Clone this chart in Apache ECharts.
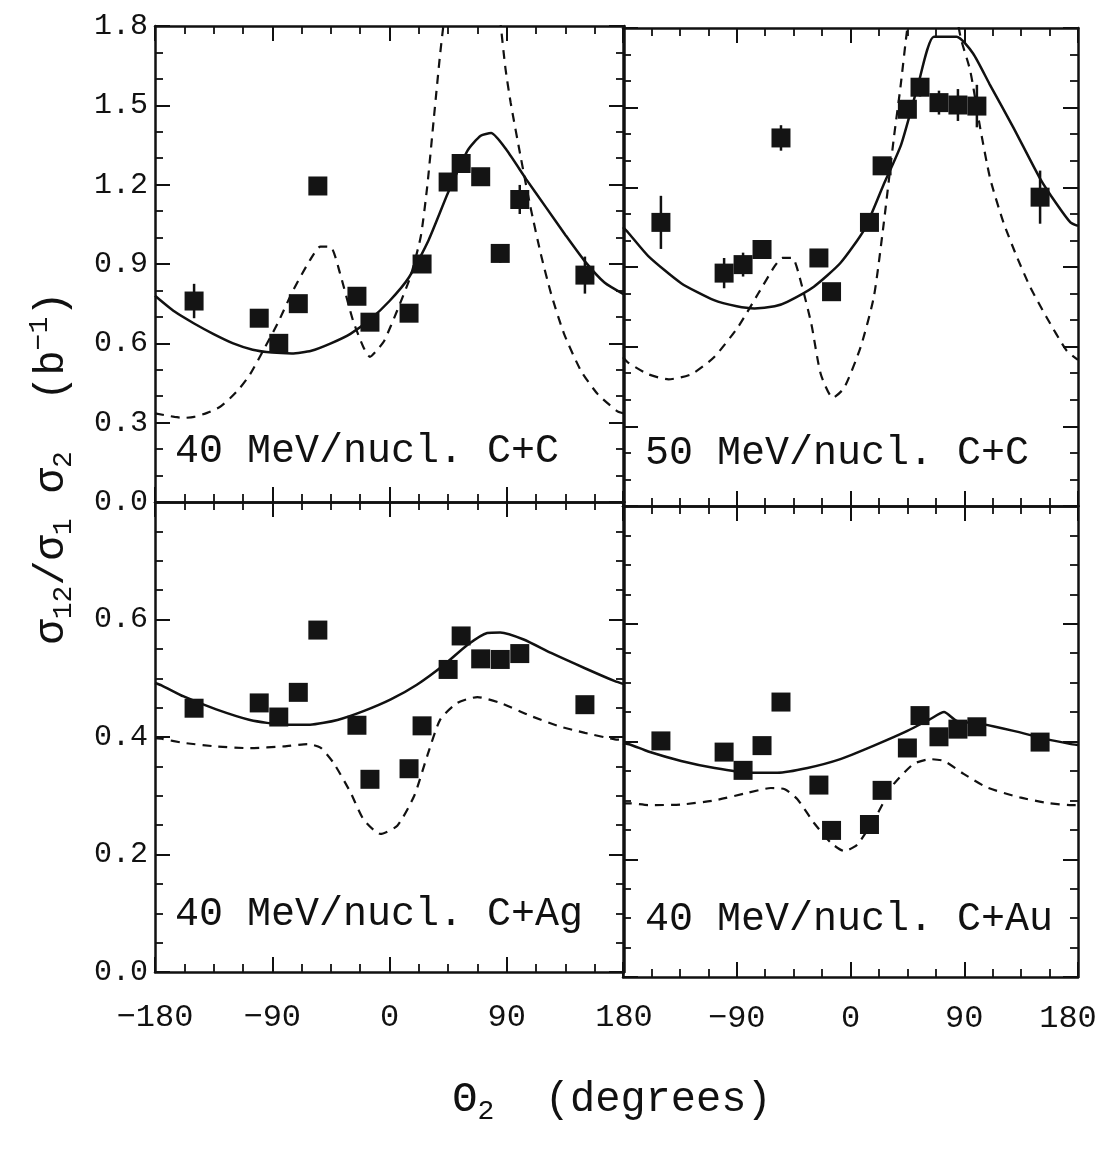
<!DOCTYPE html>
<html><head><meta charset="utf-8">
<script src="https://cdn.jsdelivr.net/npm/echarts@6/dist/echarts.min.js"></script>
<style>html,body{margin:0;padding:0;background:#fff}#c{width:1101px;height:1149px}</style>
</head><body><div id="c"></div><script>
// ---- data ----
const angles = [-150,-100,-85,-70,-55,-25,-15,15,25,45,55,70,85,100,150];
const cc40 = [0.76,0.695,0.60,0.75,1.195,0.778,0.68,0.714,0.90,1.21,1.28,1.23,0.94,1.144,0.858];
const cc40Err = [0.065,0.03,0,0,0,0,0,0,0,0,0.035,0,0.035,0.055,0.07];
const cc50 = [1.068,0.877,0.909,0.966,1.386,0.934,0.807,1.068,1.281,1.494,1.577,1.519,1.51,1.506,1.163];
const cc50Err = [0.10,0.057,0.045,0,0.048,0,0,0,0,0,0.035,0.045,0.06,0.08,0.10];
const cag40 = [0.449,0.458,0.434,0.476,0.582,0.42,0.328,0.346,0.419,0.515,0.572,0.533,0.532,0.542,0.455];
const cau40 = [0.401,0.382,0.351,0.393,0.467,0.326,0.249,0.259,0.317,0.389,0.444,0.408,0.421,0.425,0.399];

const tlSolidX = [-180,-165,-150,-135,-120,-105,-90,-75,-60,-45,-30,-15,0,15,30,45,60,70,78,90,105,120,135,150,165,180];
const tlSolidY = [0.78,0.72,0.675,0.635,0.60,0.576,0.565,0.562,0.572,0.60,0.636,0.69,0.76,0.85,0.99,1.17,1.33,1.385,1.395,1.33,1.22,1.115,1.01,0.91,0.83,0.785];
const tlDashX = [-180,-165,-158,-150,-140,-130,-122,-115,-107,-97,-86,-74,-61,-53,-45,-38,-28,-20,-15,-10,-4,6,16,24,29,34,39,45,55,65,75,85,89,93,101,108,116,124,134,147,160,175,180];
const tlDashY = [0.335,0.322,0.318,0.322,0.337,0.36,0.394,0.43,0.483,0.572,0.674,0.80,0.915,0.966,0.964,0.865,0.686,0.585,0.549,0.572,0.61,0.725,0.852,1.004,1.195,1.449,1.70,1.95,2.3,2.45,2.25,1.82,1.64,1.51,1.297,1.12,0.941,0.788,0.636,0.496,0.407,0.343,0.335];

const trSolidX = [-180,-176,-160,-134,-108,-90,-76,-60,-50,-29,-8,11,26,40,53,66,84,97,110,129,150,163,174,180];
const trSolidY = [1.05,1.03,0.941,0.839,0.775,0.752,0.744,0.752,0.769,0.826,0.915,1.042,1.208,1.36,1.577,1.767,1.767,1.704,1.589,1.424,1.233,1.138,1.068,1.055];
const trDashX = [-180,-176,-160,-144,-126,-108,-89,-73,-60,-54,-46,-39,-31,-23.5,-14,-5,8,18.5,26.4,34.3,39.5,45,55,65,75,87,94.7,102.6,110.5,121,131.4,142,155,171,180];
const trDashY = [0.56,0.54,0.496,0.477,0.496,0.56,0.674,0.80,0.903,0.934,0.934,0.839,0.686,0.496,0.407,0.445,0.598,0.788,1.068,1.386,1.576,1.80,2.1,2.25,2.1,1.767,1.64,1.424,1.233,1.068,0.941,0.826,0.712,0.585,0.55];

const blSolidX = [-180,-175,-158,-133,-107,-81,-61,-40,-20,1,21,42,60,75,85,103,124,150,173,180];
const blSolidY = [0.492,0.488,0.469,0.447,0.429,0.421,0.421,0.429,0.444,0.464,0.489,0.523,0.557,0.577,0.578,0.566,0.543,0.517,0.495,0.49];
const blDashX = [-180,-175,-158,-133,-107,-81,-63,-53,-43,-30,-20,-7,6,19,29,39,52,67.5,85,106,129,150,173,180];
const blDashY = [0.398,0.397,0.39,0.384,0.381,0.384,0.388,0.382,0.356,0.306,0.26,0.235,0.249,0.30,0.368,0.43,0.458,0.468,0.458,0.438,0.419,0.407,0.396,0.395];

const brSolidX = [-180,-174.5,-160,-134,-107.5,-81,-58,-34,-8,18.5,45,63,74,84,103,129,155,173.5,180];
const brSolidY = [0.397,0.395,0.383,0.367,0.355,0.347,0.347,0.355,0.37,0.393,0.418,0.438,0.45,0.435,0.43,0.418,0.404,0.396,0.394];
const brDashX = [-180,-174.5,-160,-134,-107.5,-81,-63,-52,-42,-29,-15.6,-5,5.4,21,34,50,63,74,89.5,108,134,155,173.5,180];
const brDashY = [0.295,0.295,0.292,0.293,0.30,0.313,0.321,0.319,0.302,0.262,0.228,0.214,0.225,0.276,0.327,0.362,0.37,0.367,0.345,0.322,0.305,0.296,0.292,0.292];

const panelLabels = ['40 MeV/nucl. C+C','50 MeV/nucl. C+C','40 MeV/nucl. C+Ag','40 MeV/nucl. C+Au'];
const xTicks = {min:-180, max:180, interval:90};
const yTopTicks = {min:0, max:1.8, interval:0.3};
const yBotTicks = {min:0, max:0.8, interval:0.2};

// ---- build ----
const INK = '#111';
const MONO = '"Liberation Mono", "DejaVu Sans Mono", monospace';
const grids = [
  {left:155, top:26, width:469, height:476},
  {left:623, top:28, width:455, height:478},
  {left:155, top:502, width:469, height:470},
  {left:623, top:506, width:455, height:471}
];
const pts = [cc40, cc50, cag40, cau40];
const errs = [cc40Err, cc50Err, null, null];
const curves = [
  [tlSolidX, tlSolidY, tlDashX, tlDashY],
  [trSolidX, trSolidY, trDashX, trDashY],
  [blSolidX, blSolidY, blDashX, blDashY],
  [brSolidX, brSolidY, brDashX, brDashY]
];
const zip = (a,b) => a.map((v,k)=>[v,b[k]]);
const minus = s => String(s).replace('-', '\u2212');

const xAxis = [], yAxis = [], series = [];
grids.forEach((g, i) => {
  const lineAxis = {show:true, onZero:false, lineStyle:{color:INK, width:2.5}};
  const tick = {show:true, inside:true, length:15, lineStyle:{color:INK, width:2}};
  const yt = i < 2 ? yTopTicks : yBotTicks;
  const ySplit = i < 2 ? 3 : 4;
  xAxis.push({gridIndex:i, type:'value', position:'bottom', min:xTicks.min, max:xTicks.max, interval:xTicks.interval,
    axisLine:lineAxis, axisTick:tick,
    minorTick:{show:true, splitNumber:4, length:8, lineStyle:{color:INK, width:1.8}},
    splitLine:{show:false}, minorSplitLine:{show:false},
    axisLabel:{show:i>=2, showMinLabel: i!==3, margin: i===3 ? 26 : 30, fontFamily:MONO, fontSize:32, color:INK,
      formatter: v => (i===3 && v===180) ? '{r|180}' : minus(v),
      rich:{r:{fontFamily:MONO, fontSize:32, color:INK, padding:[0,20,0,0]}}}});
  xAxis.push({gridIndex:i, type:'value', position:'top', min:xTicks.min, max:xTicks.max, interval:xTicks.interval,
    axisLine:lineAxis, axisTick:tick,
    minorTick:{show:true, splitNumber:4, length:8, lineStyle:{color:INK, width:1.8}},
    splitLine:{show:false}, axisLabel:{show:false}});
  yAxis.push({gridIndex:i, type:'value', position:'left', min:yt.min, max:yt.max, interval:yt.interval,
    axisLine:lineAxis, axisTick:tick,
    minorTick:{show:true, splitNumber:ySplit, length:8, lineStyle:{color:INK, width:1.8}},
    splitLine:{show:false},
    axisLabel:{show:(i===0||i===2), margin:7, fontFamily:MONO, fontSize:30, color:INK,
      formatter: v => (i===2 && v>0.79) ? '' : v.toFixed(1)}});
  yAxis.push({gridIndex:i, type:'value', position:'right', min:yt.min, max:yt.max, interval:yt.interval,
    axisLine:lineAxis, axisTick:tick,
    minorTick:{show:true, splitNumber:ySplit, length:8, lineStyle:{color:INK, width:1.8}},
    splitLine:{show:false}, axisLabel:{show:false}});

  const c = curves[i];
  series.push({type:'line', xAxisIndex:2*i, yAxisIndex:2*i, data:zip(c[0],c[1]), showSymbol:false, smooth:0.2,
    clip:true, lineStyle:{color:INK, width:2.5}, z:3, silent:true});
  series.push({type:'line', xAxisIndex:2*i, yAxisIndex:2*i, data:zip(c[2],c[3]), showSymbol:false, smooth:0.2,
    clip:true, lineStyle:{color:INK, width:2.2, type:[9,7]}, z:3, silent:true});
  if (errs[i]) {
    series.push({type:'custom', xAxisIndex:2*i, yAxisIndex:2*i, z:4, silent:true,
      data: angles.map((a,k)=>[a, pts[i][k], errs[i][k]]),
      renderItem: (params, api) => {
        const x=api.value(0), y=api.value(1), e=api.value(2);
        if (!e) return null;
        const p1=api.coord([x,y-e]), p2=api.coord([x,y+e]);
        return {type:'line', shape:{x1:p1[0],y1:p1[1],x2:p2[0],y2:p2[1]}, style:{stroke:INK, lineWidth:2.5}};
      }});
  }
  series.push({type:'scatter', xAxisIndex:2*i, yAxisIndex:2*i, data:zip(angles, pts[i]), symbol:'rect', symbolSize:19,
    itemStyle:{color:'#141414', opacity:1}, z:5, silent:true});
});

const labelPos = [[175,431],[645,433],[175,894],[645,899]];
const graphic = panelLabels.map((t,i)=>({type:'text', left:labelPos[i][0], top:labelPos[i][1],
  style:{text:t, font:'40px ' + MONO, fill:INK}}));
graphic.push({type:'text', x:52, y:468, rotation:Math.PI/2,
  style:{text:'{m|\u03c3}{s|12}{m|/\u03c3}{s|1}{m| \u03c3}{s|2}{m|  (b}{p|\u22121}{m|)}',
    align:'center', verticalAlign:'middle', textAlign:'center', textVerticalAlign:'middle', fill:INK,
    rich:{m:{fontFamily:MONO, fontSize:42, fill:INK, color:INK},
          s:{fontFamily:MONO, fontSize:28, fill:INK, color:INK, padding:[24,0,0,0]},
          p:{fontFamily:MONO, fontSize:28, fill:INK, color:INK, padding:[0,0,24,0]}}}});
graphic.push({type:'text', x:612, y:1100,
  style:{text:'{m|\u0398}{s|2}{m|  (degrees)}',
    align:'center', verticalAlign:'middle', textAlign:'center', textVerticalAlign:'middle', fill:INK,
    rich:{m:{fontFamily:MONO, fontSize:42, fill:INK, color:INK},
          s:{fontFamily:MONO, fontSize:28, fill:INK, color:INK, padding:[24,0,0,0]}}}});

const chart = echarts.init(document.getElementById('c'), null, {renderer:'canvas'});
chart.setOption({
  animation:false, backgroundColor:'#fff',
  grid: grids.map(g => Object.assign({containLabel:false, outerBoundsMode:'none'}, g)),
  xAxis, yAxis, series, graphic
});
</script></body></html>
